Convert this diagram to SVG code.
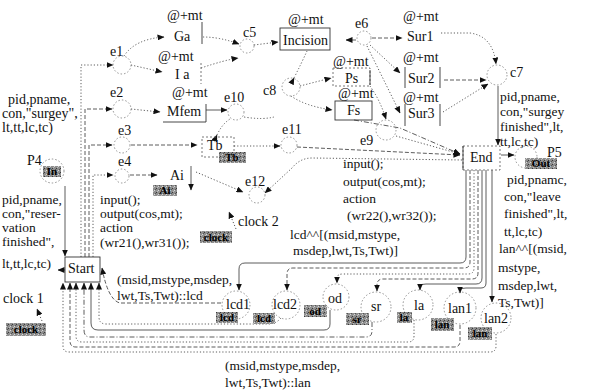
<svg xmlns="http://www.w3.org/2000/svg" width="603" height="391" viewBox="0 0 603 391">
<defs>
<marker id="ar" markerWidth="7" markerHeight="6" refX="6.5" refY="3" orient="auto" markerUnits="userSpaceOnUse"><path d="M0,0 L7,3 L0,6 z" fill="#111"/></marker>
<pattern id="gr" width="4" height="4" patternUnits="userSpaceOnUse"><rect width="4" height="4" fill="#8e8e8e"/><rect x="0" y="0" width="1" height="1" fill="#3a3a3a"/><rect x="2" y="2" width="1" height="1" fill="#d8d8d8"/><rect x="3" y="1" width="1" height="1" fill="#555"/><rect x="1" y="3" width="1" height="1" fill="#bbb"/></pattern>
</defs>
<style>
text{font-family:"Liberation Serif","Times New Roman",serif;font-size:14px;fill:#111}
.i{font-size:13.5px}
.k{font-size:11px;font-weight:bold;text-anchor:middle;fill:#000}
.tk{fill:url(#gr)}
.pl{fill:none;stroke:#777;stroke-width:0.8;stroke-dasharray:1.5 2}
.bx{fill:none;stroke:#333;stroke-width:0.9}
.bd{fill:none;stroke:#555;stroke-width:0.8;stroke-dasharray:2 2}
#conn path{fill:none;stroke:#333;stroke-width:0.8}
#conn .m{marker-end:url(#ar)}
#conn .ms{marker-start:url(#ar)}
#conn .o{stroke-dasharray:1.2 2}
#conn .d{stroke-dasharray:4 2}
#conn .dd{stroke-dasharray:5 2 1 2}
</style>
<rect width="603" height="391" fill="#fff"/>

<g id="conn">
<path class="o m" d="M81,257 V65 H113"/>
<path class="d m" d="M85,257 V109 H112"/>
<path class="d m" d="M89,257 V145 H112"/>
<path class="o m" d="M93,257 V175 H113"/>
<path class="o m" d="M124,56 Q135,39 164,37"/>
<path class="o m" d="M131,65 L162,72"/>
<path class="o m" d="M131,109 L160,112"/>
<path class="d m" d="M131,145 H197"/>
<path class="d m" d="M130,175 L157,175"/>
<path class="o m" d="M203,37 Q220,37 239,44"/>
<path class="o m" d="M201,68 Q225,60 238,58"/>
<path class="o m" d="M254,45 L278,42"/>
<path class="o ms" d="M294,78 Q302,62 307,51"/>
<path class="o m" d="M300,86 L331,78"/>
<path class="o m" d="M291,96 Q305,106 332,110"/>
<path class="m" d="M206,110 H227"/>
<path class="o ms" d="M217,135 Q222,124 230,119"/>
<path class="o" d="M244,117 Q262,120 274,117"/>
<path class="o m" d="M234,146 H280"/>
<path class="d m" d="M297,147 L460,155"/>
<path class="o m" d="M462,160 L312,158 Q300,158 292,168 L265,193"/>
<path class="o m" d="M196,172 L243,192"/>
<path class="m" d="M191,166 V190"/>
<path class="o m" d="M236,229 L229,212"/>
<path class="o m" d="M370,86 Q380,100 386,119"/>
<path class="dd m" d="M354,120 L400,128 L460,154"/>
<path class="o m" d="M396,136 L460,154"/>
<path class="m" d="M356,40 L346,40"/>
<path class="d m" d="M372,38 H402"/>
<path class="o m" d="M370,45 L400,73"/>
<path class="o m" d="M367,46 L400,113"/>
<path class="o m" d="M441,33 H470 Q493,36 496,64"/>
<path class="d m" d="M444,80 H486"/>
<path class="o m" d="M443,112 L488,84"/>
<path class="m" d="M498,86 V145"/>
<path class="m" d="M501,155 H514"/>
<path class="m" d="M65,186 V256"/>
<path class="m" d="M65,270 L58,270"/>
<path class="d m" d="M221,303 H120 Q108,300 102,268"/>
<path class="o m" d="M281,318 Q276,324 268,324 H106 Q99,324 99,317 V283"/>
<path class="m" d="M330,310 V324 Q330,330 324,330 H98 Q91,330 91,323 V283"/>
<path class="dd m" d="M372,322 V331 Q372,337 366,337 H90 Q84,337 84,330 V283"/>
<path class="o m" d="M414,320 V336 Q414,342 408,342 H82 Q76,342 76,336 V283"/>
<path class="d m" d="M460,325 V341 Q460,347 454,347 H76 Q70,347 70,341 V283"/>
<path class="o m" d="M496,334 V346 Q496,352 490,352 H69 Q63,352 63,346 V283"/>
<path class="m" d="M466,170 V257 Q466,263 460,263 H245 Q239,263 239,269 V290"/>
<path class="d m" d="M470,170 V262 Q470,268 464,268 H293 Q287,268 287,274 V290"/>
<path class="o m" d="M474,170 V268 Q474,274 468,274 H343 Q337,274 337,278 V283"/>
<path class="d m" d="M478,170 V273 Q478,279 472,279 H383 Q377,279 377,285 V291"/>
<path class="m" d="M482,170 V278 Q482,284 476,284 H426 Q420,284 420,286 V290"/>
<path class="m" d="M486,170 V283 Q486,288 481,288 H466 Q460,288 460,290 V293"/>
<path class="m" d="M492,170 V302"/>
<path class="o m" d="M42,321 L37,309"/>
</g>

<g id="t-Ga"><text x="167" y="20">@+mt</text><text x="174" y="41">Ga</text><path class="bx" d="M202,22 V44"/></g>
<g id="t-Ia"><text x="158" y="61">@+mt</text><text x="175" y="79">I a</text><path class="bd" d="M201,63 V84"/></g>
<g id="t-Mfem"><text x="172" y="97">@+mt</text><text x="167" y="116">Mfem</text><path class="bx" d="M163,122 H206 V104"/></g>
<g id="t-Ai"><text x="170" y="180">Ai</text><rect class="tk" x="153" y="185" width="24" height="11"/><text class="k" x="165" y="194">Ai</text></g>
<g id="t-Tb"><rect class="bd" x="202" y="137" width="32" height="20"/><text x="207" y="150">Tb</text><rect class="tk" x="219" y="152" width="27" height="11"/><text class="k" x="232" y="161">Tb</text></g>
<g id="t-Incision"><text x="288" y="24">@+mt</text><rect class="bx" x="280" y="28" width="50" height="22"/><text x="283" y="45">Incision</text></g>
<g id="t-Ps"><text x="333" y="66">@+mt</text><rect class="bd" x="333" y="68" width="37" height="18"/><path class="bx" d="M370,70 V85"/><text x="345" y="83">Ps</text></g>
<g id="t-Fs"><text x="338" y="98">@+mt</text><rect class="bx" x="335" y="101" width="37" height="19"/><text x="347" y="115">Fs</text></g>
<g id="t-Sur1"><text x="403" y="21">@+mt</text><text x="407" y="41">Sur1</text></g>
<g id="t-Sur2"><text x="403" y="62">@+mt</text><text x="408" y="83">Sur2</text><path class="bx" d="M405,67 V88 M440,67 V88"/></g>
<g id="t-Sur3"><text x="403" y="102">@+mt</text><text x="408" y="118">Sur3</text><path class="bx" d="M405,104 V126 M440,104 V126"/></g>
<g id="t-End"><rect class="bd" x="463" y="146" width="37" height="24"/><path class="bx" d="M463,146 V170"/><text x="470" y="162">End</text>
<text class="i" x="343" y="168">input();</text><text class="i" x="343" y="186">output(cos,mt);</text><text class="i" x="343" y="203">action</text><text class="i" x="347" y="220">(wr22(),wr32());</text><text class="i" x="290" y="239">lcd^^[(msid,mstype,</text><text class="i" x="293" y="255">msdep,lwt,Ts,Twt)]</text></g>
<g id="t-Start"><rect class="bx" x="65" y="257" width="35" height="25"/><text x="68" y="273">Start</text>
<text class="i" x="100" y="204">input();</text><text class="i" x="100" y="218">output(cos,mt);</text><text class="i" x="100" y="232">action</text><text class="i" x="100" y="247">(wr21(),wr31());</text></g>

<g id="p-e1"><circle class="pl" cx="122" cy="65" r="9"/><text x="110" y="56">e1</text></g>
<g id="p-e2"><circle class="pl" cx="122" cy="109" r="9"/><text x="110" y="97">e2</text></g>
<g id="p-e3"><circle class="pl" cx="122" cy="145" r="8"/><text x="118" y="135">e3</text></g>
<g id="p-e4"><circle class="pl" cx="122" cy="176" r="7"/><text x="118" y="166">e4</text></g>
<g id="p-c5"><circle class="pl" cx="247" cy="46" r="7"/><text x="243" y="37">c5</text></g>
<g id="p-e6"><circle class="pl" cx="364" cy="38" r="7"/><text x="355" y="28">e6</text></g>
<g id="p-c8"><circle class="pl" cx="291" cy="87" r="9"/><text x="263" y="95">c8</text></g>
<g id="p-e10"><circle class="pl" cx="236" cy="112" r="8"/><text x="224" y="102">e10</text></g>
<g id="p-e11"><circle class="pl" cx="289" cy="145" r="8"/><text x="282" y="134">e11</text></g>
<g id="p-e9"><circle class="pl" cx="386" cy="130" r="10"/><text x="360" y="145">e9</text></g>
<g id="p-e12"><circle class="pl" cx="257" cy="195" r="8"/><text x="245" y="186">e12</text></g>
<g id="p-clock2"><text x="238" y="226">clock 2</text><rect class="tk" x="200" y="231" width="32" height="12"/><text class="k" x="216" y="241">clock</text></g>
<g id="p-c7"><circle class="pl" cx="497" cy="75" r="10"/><text x="510" y="77">c7</text>
<text class="i" x="500" y="101">pid,pname,</text><text class="i" x="500" y="116">con,"surgey</text><text class="i" x="500" y="131">finished",lt,</text><text class="i" x="500" y="146">tt,lc,tc)</text></g>
<g id="p-P5"><circle class="pl" cx="526" cy="157" r="11"/><text x="547" y="157">P5</text><rect class="tk" x="525" y="158" width="32" height="11"/><text class="k" x="541" y="167">Out</text>
<text class="i" x="507" y="184">pid,pnamc,</text><text class="i" x="504" y="201">con,"leave</text><text class="i" x="504" y="218">finished",lt,</text><text class="i" x="504" y="236">tt,lc,tc)</text>
<text class="i" x="499" y="253">lan^^[(msid,</text><text class="i" x="498" y="272">mstype,</text><text class="i" x="498" y="290">msdep,lwt,</text><text class="i" x="498" y="307">Ts,Twt)]</text></g>
<g id="p-P4"><circle class="pl" cx="52" cy="171" r="12"/><text x="27" y="165">P4</text><rect class="tk" x="43" y="166" width="18" height="11"/><text class="k" x="52" y="175">In</text>
<text x="8" y="104">pid,pname,</text><text x="2" y="118">con,"surgey",</text><text x="2" y="132">lt,tt,lc,tc)</text>
<text class="i" x="2" y="204">pid,pname,</text><text class="i" x="2" y="218">con,"reser-</text><text class="i" x="2" y="232">vation</text><text class="i" x="2" y="246">finished",</text><text class="i" x="2" y="268">lt,tt,lc,tc)</text></g>
<g id="p-clock1"><text x="3" y="303">clock 1</text><rect class="tk" x="6" y="323" width="40" height="13"/><text class="k" x="26" y="333">clock</text></g>
<g id="p-lcd1"><circle class="pl" cx="236" cy="305" r="14"/><text x="226" y="309">lcd1</text><rect class="tk" x="216" y="312" width="22" height="11"/><text class="k" x="227" y="321">lcd</text>
<text class="i" x="117" y="284">(msid,mstype,msdep,</text><text class="i" x="117" y="300">lwt,Ts,Twt)::lcd</text></g>
<g id="p-lcd2"><circle class="pl" cx="286" cy="305" r="14"/><text x="273" y="309">lcd2</text><rect class="tk" x="253" y="313" width="22" height="11"/><text class="k" x="264" y="322">lcd</text></g>
<g id="p-od"><circle class="pl" cx="336" cy="297" r="13"/><text x="328" y="303">od</text><rect class="tk" x="304" y="305" width="23" height="12"/><text class="k" x="315" y="315">od</text></g>
<g id="p-sr"><circle class="pl" cx="376" cy="307" r="15"/><text x="371" y="311">sr</text><rect class="tk" x="346" y="313" width="23" height="12"/><text class="k" x="357" y="323">sr</text></g>
<g id="p-la"><circle class="pl" cx="418" cy="305" r="15"/><text x="414" y="310">la</text><rect class="tk" x="397" y="312" width="15" height="11"/><text class="k" x="404" y="321">la</text></g>
<g id="p-lan1"><circle class="pl" cx="460" cy="308" r="16"/><text x="448" y="313">lan1</text><rect class="tk" x="431" y="318" width="23" height="13"/><text class="k" x="442" y="328">lan</text></g>
<g id="p-lan2"><circle class="pl" cx="496" cy="318" r="15"/><text x="484" y="323">lan2</text><rect class="tk" x="468" y="327" width="24" height="13"/><text class="k" x="480" y="337">lan</text>
<text class="i" x="225" y="370">(msid,mstype,msdep,</text><text class="i" x="225" y="387">lwt,Ts,Twt)::lan</text></g>
</svg>
